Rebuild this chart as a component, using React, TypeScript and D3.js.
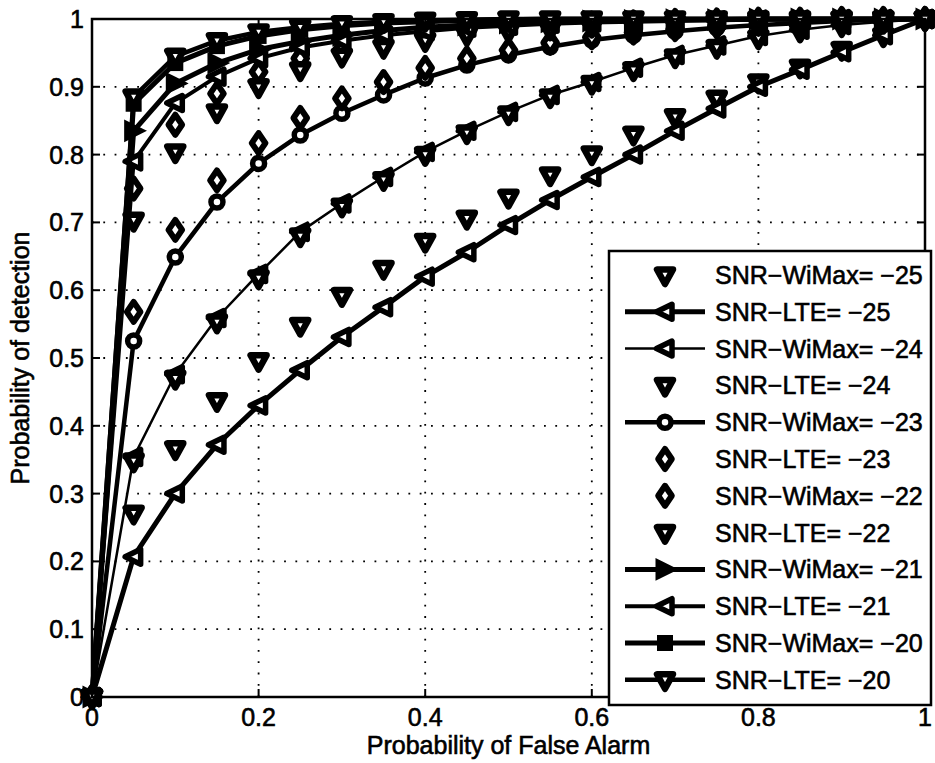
import React from 'react';
import * as d3 from 'd3';

const pfa = [0, 0.05, 0.1, 0.15, 0.2, 0.25, 0.3, 0.35, 0.4, 0.45, 0.5, 0.55, 0.6, 0.65, 0.7, 0.75, 0.8, 0.85, 0.9, 0.95, 1];

const wimax25 = [0, 0.271, 0.366, 0.437, 0.496, 0.548, 0.592, 0.632, 0.672, 0.706, 0.737, 0.77, 0.801, 0.83, 0.856, 0.883, 0.907, 0.929, 0.955, 0.975, 1];
const lte25 = [0, 0.207, 0.3, 0.372, 0.43, 0.482, 0.531, 0.575, 0.62, 0.656, 0.696, 0.733, 0.767, 0.8, 0.835, 0.868, 0.9, 0.925, 0.951, 0.976, 1];
const wimax24 = [0, 0.354, 0.476, 0.559, 0.624, 0.686, 0.728, 0.767, 0.804, 0.835, 0.863, 0.888, 0.907, 0.928, 0.947, 0.961, 0.975, 0.984, 0.991, 0.996, 1];
const lte24 = [0, 0.348, 0.47, 0.553, 0.618, 0.68, 0.724, 0.763, 0.8, 0.832, 0.86, 0.885, 0.905, 0.925, 0.944, 0.958, 0.972, 0.982, 0.99, 0.995, 1];
const wimax23 = [0, 0.525, 0.649, 0.73, 0.787, 0.829, 0.861, 0.888, 0.913, 0.932, 0.947, 0.959, 0.969, 0.976, 0.982, 0.987, 0.991, 0.994, 0.997, 0.999, 1];
const lte23 = [0, 0.568, 0.689, 0.762, 0.817, 0.854, 0.883, 0.907, 0.928, 0.942, 0.954, 0.965, 0.973, 0.98, 0.985, 0.989, 0.993, 0.995, 0.997, 0.999, 1];
const wimax22 = [0, 0.75, 0.844, 0.89, 0.922, 0.942, 0.955, 0.967, 0.976, 0.982, 0.987, 0.99, 0.993, 0.995, 0.997, 0.998, 0.999, 0.999, 1, 1, 1];
const lte22 = [0, 0.703, 0.804, 0.863, 0.9, 0.925, 0.945, 0.958, 0.968, 0.977, 0.982, 0.985, 0.989, 0.991, 0.993, 0.995, 0.997, 0.998, 0.999, 1, 1];
const wimax21 = [0, 0.835, 0.905, 0.935, 0.955, 0.967, 0.976, 0.983, 0.988, 0.991, 0.994, 0.996, 0.997, 0.998, 0.999, 0.999, 1, 1, 1, 1, 1];
const lte21 = [0, 0.79, 0.876, 0.915, 0.942, 0.958, 0.968, 0.976, 0.982, 0.987, 0.99, 0.993, 0.995, 0.996, 0.997, 0.998, 0.999, 0.999, 1, 1, 1];
const wimax20 = [0, 0.875, 0.935, 0.96, 0.975, 0.984, 0.99, 0.994, 0.996, 0.998, 0.999, 1, 1, 1, 1, 1, 1, 1, 1, 1, 1];
const lte20 = [0, 0.885, 0.945, 0.968, 0.981, 0.988, 0.993, 0.996, 0.998, 0.999, 1, 1, 1, 1, 1, 1, 1, 1, 1, 1, 1];

const xTicks = [0, 0.2, 0.4, 0.6, 0.8, 1];
const yTicks = [0, 0.1, 0.2, 0.3, 0.4, 0.5, 0.6, 0.7, 0.8, 0.9, 1];
const xTickLabels = ['0', '0.2', '0.4', '0.6', '0.8', '1'];
const yTickLabels = ['0', '0.1', '0.2', '0.3', '0.4', '0.5', '0.6', '0.7', '0.8', '0.9', '1'];

type Mk = 'v' | '<' | '>' | 'o' | 'd' | 's';
interface Series { label: string; values: number[]; marker: Mk; line: number; }

const series: Series[] = [
  { label: 'SNR\u2212WiMax= \u221225', values: wimax25, marker: 'v', line: 0 },
  { label: 'SNR\u2212LTE= \u221225', values: lte25, marker: '<', line: 5 },
  { label: 'SNR\u2212WiMax= \u221224', values: wimax24, marker: '<', line: 2.5 },
  { label: 'SNR\u2212LTE= \u221224', values: lte24, marker: 'v', line: 0 },
  { label: 'SNR\u2212WiMax= \u221223', values: wimax23, marker: 'o', line: 4.5 },
  { label: 'SNR\u2212LTE= \u221223', values: lte23, marker: 'd', line: 0 },
  { label: 'SNR\u2212WiMax= \u221222', values: wimax22, marker: 'd', line: 0 },
  { label: 'SNR\u2212LTE= \u221222', values: lte22, marker: 'v', line: 0 },
  { label: 'SNR\u2212WiMax= \u221221', values: wimax21, marker: '>', line: 5 },
  { label: 'SNR\u2212LTE= \u221221', values: lte21, marker: '<', line: 4 },
  { label: 'SNR\u2212WiMax= \u221220', values: wimax20, marker: 's', line: 5 },
  { label: 'SNR\u2212LTE= \u221220', values: lte20, marker: 'v', line: 4.5 },
];

const W = 935, H = 763;
const X0 = 92, X1 = 925, Y0 = 697, Y1 = 19;
const FONT = '"Liberation Sans", Arial, Helvetica, sans-serif';

function Marker({ t, x, y }: { t: Mk; x: number; y: number }) {
  const tr = `translate(${x},${y})`;
  switch (t) {
    case 'v':
      return <path transform={tr} d="M-8,-5.5L8,-5.5L0,9Z" fill="#fff" stroke="#000" strokeWidth={6.5} strokeLinejoin="round" />;
    case '<':
      return <path transform={tr} d="M-8.5,0L7,-7.5L7,7.5Z" fill="#fff" stroke="#000" strokeWidth={5.5} strokeLinejoin="round" />;
    case '>':
      return <path transform={tr} d="M10,0L-8,-9L-8,9Z" fill="#000" stroke="#000" strokeWidth={3} />;
    case 'o':
      return <circle cx={x} cy={y} r={6} fill="#fff" stroke="#000" strokeWidth={5.5} />;
    case 'd':
      return <path transform={tr} d="M0,-10L6.8,0L0,10L-6.8,0Z" fill="#fff" stroke="#000" strokeWidth={6} strokeLinejoin="round" />;
    case 's':
      return <rect x={x - 7} y={y - 7} width={14} height={14} fill="#000" stroke="#000" strokeWidth={2} />;
  }
  return null;
}

export default function App() {
  const xs = d3.scaleLinear().domain([0, 1]).range([X0, X1]);
  const ys = d3.scaleLinear().domain([0, 1]).range([Y0, Y1]);
  const line = d3.line<number>().x((_, i) => xs(pfa[i])).y((d) => ys(d));

  const legX = 609, legY = 251, legW = 322, legH = 454;
  const rowY0 = 275, rowDY = 36.8;
  const textStyle = { stroke: '#000', strokeWidth: 0.6 };

  return (
    <svg width={W} height={H} style={{ position: 'absolute', left: 0, top: 0, background: '#fff' }} fontFamily={FONT}>
      <rect x={0} y={0} width={W} height={H} fill="#fff" />
      {/* grid */}
      <g stroke="#000" strokeWidth={1.8} strokeDasharray="1.8 9.5">
        {xTicks.slice(1, -1).map((t) => (
          <line key={'gx' + t} x1={xs(t)} x2={xs(t)} y1={Y0} y2={Y1} />
        ))}
        {yTicks.slice(1, -1).map((t) => (
          <line key={'gy' + t} x1={X0} x2={X1} y1={ys(t)} y2={ys(t)} />
        ))}
      </g>
      {/* series */}
      {series.map((s, si) => (
        <g key={'s' + si}>
          {s.line > 0 && (
            <path d={line(s.values) || ''} fill="none" stroke="#000" strokeWidth={s.line} strokeLinejoin="round" />
          )}
          {s.values.map((v, i) => (
            <Marker key={i} t={s.marker} x={xs(pfa[i])} y={ys(v)} />
          ))}
        </g>
      ))}
      {/* axes box */}
      <rect x={X0} y={Y1} width={X1 - X0} height={Y0 - Y1} fill="none" stroke="#000" strokeWidth={2.5} />
      {/* ticks */}
      <g stroke="#000" strokeWidth={2}>
        {xTicks.map((t) => (
          <g key={'tx' + t}>
            <line x1={xs(t)} x2={xs(t)} y1={Y0} y2={Y0 - 8} />
            <line x1={xs(t)} x2={xs(t)} y1={Y1} y2={Y1 + 8} />
          </g>
        ))}
        {yTicks.map((t) => (
          <g key={'ty' + t}>
            <line x1={X0} x2={X0 + 8} y1={ys(t)} y2={ys(t)} />
            <line x1={X1} x2={X1 - 8} y1={ys(t)} y2={ys(t)} />
          </g>
        ))}
      </g>
      {/* tick labels */}
      <g fontSize={25} fill="#000" style={textStyle}>
        {xTicks.map((t, i) => (
          <text key={'lx' + t} x={xs(t)} y={Y0 + 29} textAnchor="middle">{xTickLabels[i]}</text>
        ))}
        {yTicks.map((t, i) => (
          <text key={'ly' + t} x={X0 - 8} y={ys(t) + 9} textAnchor="end">{yTickLabels[i]}</text>
        ))}
      </g>
      {/* axis labels */}
      <text x={(X0 + X1) / 2} y={754} textAnchor="middle" fontSize={25} style={textStyle}>Probability of False Alarm</text>
      <text transform={`translate(29,${(Y0 + Y1) / 2}) rotate(-90)`} textAnchor="middle" fontSize={25} style={textStyle}>Probability of detection</text>
      {/* legend */}
      <rect x={legX} y={legY} width={legW} height={legH} fill="#fff" stroke="#000" strokeWidth={2.5} />
      {series.map((s, i) => {
        const cy = rowY0 + i * rowDY;
        return (
          <g key={'lg' + i}>
            {s.line > 0 && <line x1={625} x2={705} y1={cy} y2={cy} stroke="#000" strokeWidth={s.line} />}
            <Marker t={s.marker} x={665} y={cy} />
            <text x={715} y={cy + 9} fontSize={25} style={textStyle}>{s.label}</text>
          </g>
        );
      })}
    </svg>
  );
}
